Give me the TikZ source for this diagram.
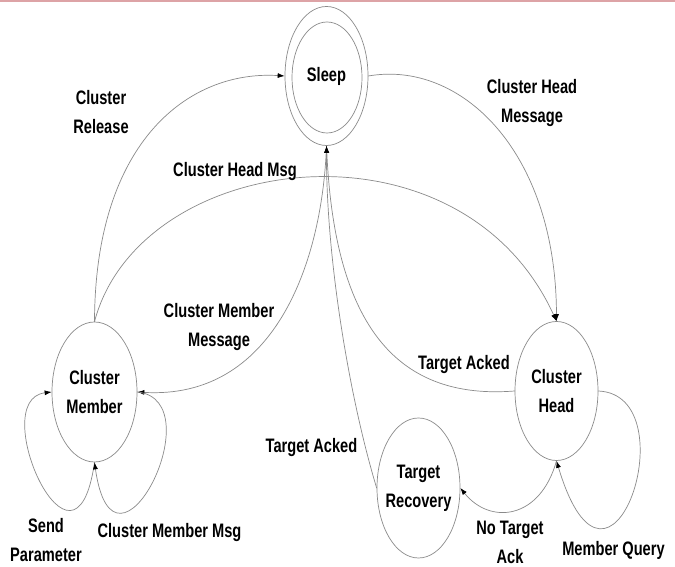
\documentclass[tikz,border=0pt]{standalone}
\usepackage{fontspec}
\setmainfont{Liberation Sans}[FakeStretch=0.75]
\usetikzlibrary{shapes.geometric,arrows.meta}
\definecolor{edgegray}{HTML}{8A8A8A}
\definecolor{toprule}{HTML}{DDA3A6}
\tikzset{
    state/.style={
        draw=edgegray, line width=0.7pt, ellipse, inner sep=0pt,
        minimum width=83pt, minimum height=139pt
    },
    lab/.style={
        align=center, font=\bfseries\fontsize{19.5}{29}\selectfont
    },
    trans/.style={
        draw=edgegray, line width=0.7pt,
        -{Latex[length=7pt,width=5pt,color=black]}
    }
}
\begin{document}
\begin{tikzpicture}[x=1pt, y=1pt, line cap=round, line join=round]

\useasboundingbox (0,0) rectangle (675,567);
\fill[toprule] (0,565) rectangle (675,567);

% states
\node[state] (sleep) at (326.5,491) {};
\node[state, minimum width=70pt, minimum height=111pt] (sleepin) at (327,489.5) {};
\node[state, minimum width=85pt, minimum height=140pt] (member) at (94.5,175) {};
\node[state] (head) at (556.5,176) {};
\node[state, minimum height=140pt] (recovery) at (418.5,79) {};

\node[lab] (sleeptext) at (sleep) {Sleep};
\node[lab] (membertext) at (member) {Cluster\\Member};
\node[lab] (headtext) at (head) {Cluster\\Head};
\node[lab] (recoverytext) at (recovery) {Target\\Recovery};

% transitions to and from sleep
\draw[trans] (member.north) .. controls (95,427) and (190,497) .. (sleep.west);
\draw[trans] (sleep.east) .. controls (460,507) and (556,417) .. (head.north);
\draw[trans] (member.north) .. controls (140,417) and (460,457) .. (head.north);
\draw[trans] (sleep.south) .. controls (322,300) and (272,167) .. (member.east);
\draw[trans] (head.west) .. controls (400,167) and (335,237) .. (sleep.south);
\draw[trans] (recovery.west) .. controls (350,167) and (326,307) .. (sleep.south);

% head to recovery
\draw[trans] (head.south) .. controls (540,47) and (490,42) .. (recovery.east);

% self loops
\draw[trans] (head.east) .. controls (690,172) and (610,-73) .. (head.south);
\draw[trans] (member.south) .. controls (75,-33) and (-15,167) .. (member.west);
\draw[trans] (member.east) .. controls (215,167) and (114,-33) .. (member.south);

% labels
\node[lab] (labrelease) at (101,455) {Cluster\\Release};
\node[lab] (labheadmessage) at (532,464) {Cluster Head\\Message};
\node[lab] (labheadmsg) at (235,395) {Cluster Head Msg};
\node[lab] (labmembermessage) at (219,239.5) {Cluster Member\\Message};
\node[lab] (labackedhead) at (464,202) {Target Acked};
\node[lab] (labackedrec) at (311.5,119) {Target Acked};
\node[lab] (labnoack) at (510,24.5) {No Target\\Ack};
\node[lab] (labquery) at (613.5,17) {Member Query};
\node[lab] (labsend) at (46,27) {Send\\Parameter};
\node[lab] (labmembermsg) at (169.5,34) {Cluster Member Msg};

\end{tikzpicture}
\end{document}
